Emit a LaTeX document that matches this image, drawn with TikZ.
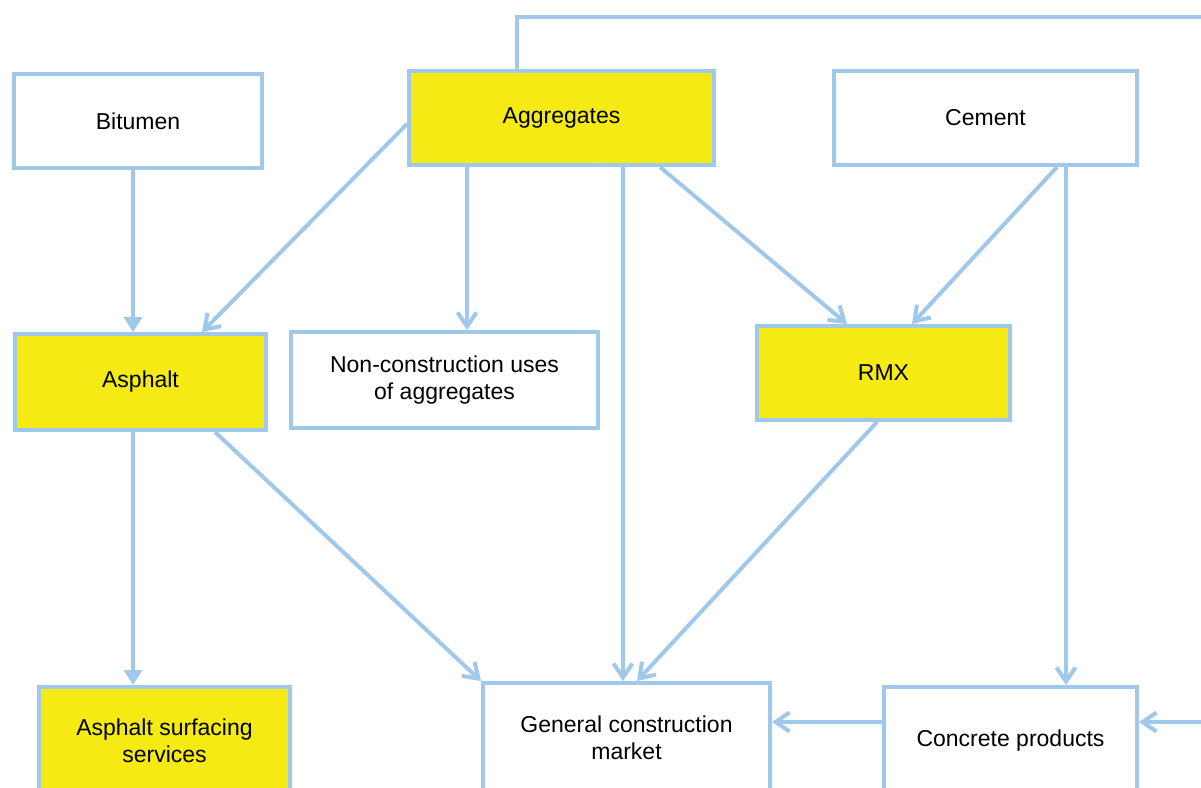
\documentclass[tikz,border=0pt]{standalone}
\usepackage{fontspec}
\setmainfont{Liberation Sans}
\usetikzlibrary{arrows.meta}
\definecolor{LINEBLUE}{HTML}{A0C8EB}
\definecolor{MARKED}{HTML}{F5EA14}

\begin{document}
\begin{tikzpicture}[x=1pt, y=-1pt,
	every node/.style={draw=LINEBLUE, line width=4pt, text=black, align=center, font=\fontsize{23}{27}\selectfont, inner sep=0pt},
	box/.style={minimum width=#1},
	marked/.style={fill=MARKED},
	link/.style={draw=LINEBLUE, line width=4pt, -{Straight Barb[length=14pt,width=19pt,line width=4pt]}},
	solid link/.style={draw=LINEBLUE, line width=4pt, -{Triangle[length=15pt,width=18pt]}}]
				\useasboundingbox[fill=white] (0,0) rectangle (1201,787);

				% first row
				\node (bitumen) [box=248, minimum height=94] at (138,121) {Bitumen};
				\node (aggregates) [box=305, minimum height=94, marked] at (561.5,118) {Aggregates};
				\node (cement) [box=303, minimum height=94] at (985.5,118) {Cement};

				% second row
				\node (asphalt) [box=251, minimum height=96, marked] at (140.5,382) {Asphalt};
				\node (noncon) [box=307, minimum height=96] at (444.5,380) {Non-construction uses\\of aggregates};
				\node (rmx) [box=253, minimum height=94, marked] at (883.5,373) {RMX};

				% third row
				\node (surfacing) [box=251, minimum height=108, marked] at (164.5,741) {Asphalt surfacing\\services};
				\node (general) [box=287, minimum height=110] at (626.5,738) {General construction\\market};
				\node (concrete) [box=253, minimum height=108] at (1010.5,741) {Concrete products};

				\coordinate (loop) at (1225,17);

				\draw [solid link] ([xshift=-5]bitumen.south) -- ([xshift=-7.5]asphalt.north);
				\draw [link] ([yshift=-6]aggregates.west) -- ([xshift=61.5]asphalt.north);
				\draw [link] ([xshift=-94.5]aggregates.south) -- ([xshift=22.5]noncon.north);
				\draw [link] ([xshift=61.5]aggregates.south) -- ([xshift=-3.5]general.north);
				\draw [link] ([xshift=98.5]aggregates.south) -- ([xshift=-36.5]rmx.north);
				\draw [link] ([xshift=71.5]cement.south) -- ([xshift=28.5]rmx.north);
				\draw [link] ([xshift=80.5]cement.south) -- ([xshift=55.5]concrete.north);
				\draw [solid link] ([xshift=-7.5]asphalt.south) -- ([xshift=-31.5]surfacing.north);
				\draw [link] ([xshift=74.5]asphalt.south) -- (general.north west);
				\draw [link] ([xshift=-6.5]rmx.south) -- ([xshift=10.5]general.north);
				\draw [link] ([yshift=19]concrete.west) -- ([yshift=16]general.east);
				\draw [link] ([xshift=-44.5]aggregates.north) |- (loop) |- ([yshift=19]concrete.east);
			\end{tikzpicture}
\end{document}
